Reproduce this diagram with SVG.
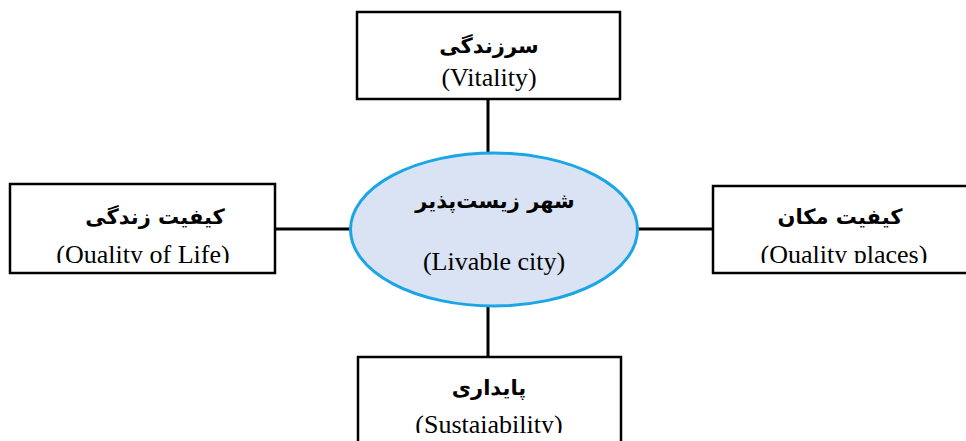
<svg xmlns="http://www.w3.org/2000/svg" width="966" height="441" viewBox="0 0 966 441">
<style>
.box{fill:#fff;stroke:#000;stroke-width:2.5}
.fa{font-family:"DejaVu Sans",sans-serif;font-weight:bold;font-size:21px;fill:#000;text-anchor:middle}
.en{font-family:"Liberation Serif",serif;font-size:26px;fill:#000;text-anchor:middle}
.conn{stroke:#000;stroke-width:3;fill:none}
</style>
<defs>
<clipPath id="cl"><rect x="10" y="184" width="265" height="79"/></clipPath>
<clipPath id="cr"><rect x="713" y="186" width="260" height="77"/></clipPath>
<clipPath id="cb"><rect x="358" y="357" width="263" height="76"/></clipPath>
</defs>
<rect width="966" height="441" fill="#fff"/>
<g id="connectors">
<line class="conn" x1="488" y1="99" x2="488" y2="153"/>
<line class="conn" x1="488" y1="306" x2="488" y2="357"/>
<line class="conn" x1="275" y1="229" x2="351" y2="229"/>
<line class="conn" x1="637" y1="229" x2="713" y2="229"/>
</g>
<g id="center">
<ellipse cx="494" cy="229.5" rx="143.5" ry="76.5" fill="#dae3f3" stroke="#1aa6e6" stroke-width="3"/>
<text class="fa" x="495" y="208">شهر زیست‌پذیر</text>
<text class="en" x="494" y="270">(Livable city)</text>
</g>
<g id="vitality">
<rect class="box" x="357" y="12" width="263" height="87"/>
<text class="fa" x="489" y="53">سرزندگی</text>
<text class="en" x="489" y="86">(Vitality)</text>
</g>
<g id="quality-life">
<rect class="box" x="10" y="184" width="265" height="89"/>
<text class="fa" x="155" y="224">کیفیت زندگی</text>
<text class="en" x="143" y="263" clip-path="url(#cl)">(Quality of Life)</text>
</g>
<g id="quality-places">
<rect class="box" x="713" y="186" width="270" height="87"/>
<text class="fa" x="840" y="224">کیفیت مکان</text>
<text class="en" x="844" y="263" clip-path="url(#cr)">(Quality places)</text>
</g>
<g id="sustainability">
<rect class="box" x="358" y="357" width="263" height="100"/>
<text class="fa" x="489" y="395">پایداری</text>
<text class="en" x="489" y="433" clip-path="url(#cb)">(Sustaiability)</text>
</g>
</svg>
